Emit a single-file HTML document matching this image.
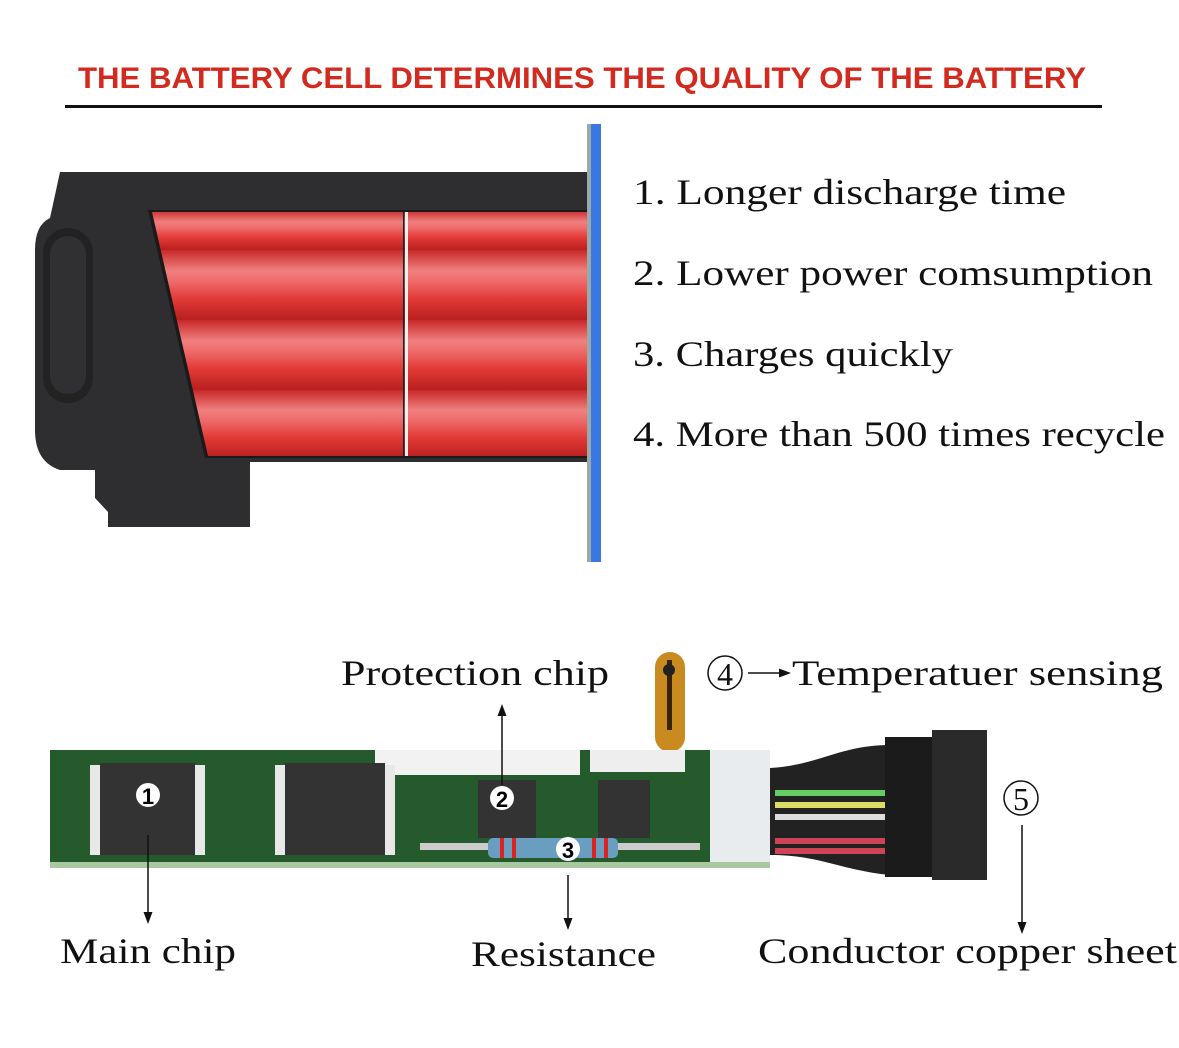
<!DOCTYPE html>
<html><head><style>
body{margin:0;background:#fff;}
svg{display:block}
.t{font-family:"Liberation Serif",serif;font-size:36px;fill:#111}
</style></head><body>
<svg width="1179" height="1048" viewBox="0 0 1179 1048" xmlns="http://www.w3.org/2000/svg">
<defs>
<linearGradient id="cell" x1="0" y1="0" x2="0" y2="1">
<stop offset="0" stop-color="#c82828"/><stop offset="0.3" stop-color="#f08080"/><stop offset="0.45" stop-color="#ee6a6a"/><stop offset="0.7" stop-color="#e23a36"/><stop offset="1" stop-color="#b81f1f"/>
</linearGradient>
<marker id="ah" markerWidth="8" markerHeight="8" refX="4" refY="4" orient="auto"><path d="M0,1 L8,4 L0,7z" fill="#111"/></marker>
</defs>
<text x="78" y="88" textLength="1008" lengthAdjust="spacingAndGlyphs" font-family="Liberation Sans,sans-serif" font-weight="bold" font-size="30" fill="#d32a1f">THE BATTERY CELL DETERMINES THE QUALITY OF THE BATTERY</text>
<rect x="65" y="105" width="1037" height="3" fill="#111"/>
<!-- battery -->
<path d="M60,172 L590,172 L590,462 L250,462 L250,527 L108,527 L108,512 L95,498 L95,470 L60,470 Q35,462 35,430 L35,250 Q35,225 50,218 Z" fill="#2e2e30"/>
<path d="M148,210 L590,210 L590,458 L205,458 Z" fill="#1a1a1a"/>
<clipPath id="win"><path d="M152,212 L590,212 L590,456 L208,456 Z"/></clipPath>
<g clip-path="url(#win)">
<rect x="140" y="210" width="460" height="40" fill="url(#cell)"/>
<rect x="140" y="250" width="460" height="70" fill="url(#cell)"/>
<rect x="140" y="320" width="460" height="70" fill="url(#cell)"/>
<rect x="140" y="390" width="460" height="68" fill="url(#cell)"/>
<rect x="405" y="210" width="3" height="250" fill="#eee"/>
<rect x="403" y="210" width="1.5" height="250" fill="#222"/>
</g>
<rect x="43" y="228" width="50" height="175" rx="25" fill="#222"/>
<rect x="50" y="236" width="36" height="158" rx="18" fill="#303032"/>
<rect x="587" y="124" width="4" height="438" fill="#9aa"/>
<rect x="591" y="124" width="10" height="438" fill="#3a78e0"/>
<text class="t" x="633" y="204" textLength="433" lengthAdjust="spacingAndGlyphs">1. Longer discharge time</text>
<text class="t" x="633" y="285" textLength="520" lengthAdjust="spacingAndGlyphs">2. Lower power comsumption</text>
<text class="t" x="633" y="366" textLength="320" lengthAdjust="spacingAndGlyphs">3. Charges quickly</text>
<text class="t" x="633" y="446" textLength="532" lengthAdjust="spacingAndGlyphs">4. More than 500 times recycle</text>
<!-- PCB -->
<rect x="655" y="652" width="30" height="100" rx="15" fill="#c98a20"/>
<rect x="667" y="660" width="5" height="70" fill="#3a2300"/>
<circle cx="669" cy="670" r="6" fill="#222"/>
<path d="M770,768 C820,765 840,745 890,745 L890,875 C840,870 820,855 770,855 Z" fill="#222"/>
<rect x="775" y="790" width="115" height="6" fill="#6c6"/>
<rect x="775" y="802" width="115" height="6" fill="#dd6"/>
<rect x="775" y="814" width="115" height="6" fill="#ddd"/>
<rect x="775" y="838" width="115" height="6" fill="#c45"/>
<rect x="775" y="848" width="115" height="6" fill="#c45"/>
<rect x="885" y="737" width="50" height="140" fill="#1b1b1b"/>
<rect x="932" y="730" width="55" height="150" fill="#2a2a2a"/>
<rect x="50" y="750" width="660" height="118" fill="#245a2c"/>
<rect x="710" y="750" width="60" height="118" fill="#e8ecee"/>
<rect x="50" y="862" width="720" height="6" fill="#a8c8a0"/>
<rect x="375" y="750" width="205" height="25" fill="#f2f2f2"/>
<rect x="590" y="750" width="95" height="22" fill="#eee"/>
<rect x="90" y="765" width="115" height="90" fill="#e8e8e8"/>
<rect x="100" y="763" width="95" height="92" fill="#333"/>
<rect x="275" y="765" width="120" height="90" fill="#e8e8e8"/>
<rect x="285" y="763" width="100" height="92" fill="#333"/>
<rect x="478" y="780" width="58" height="58" fill="#333"/>
<rect x="598" y="780" width="52" height="58" fill="#333"/>
<rect x="420" y="843" width="280" height="7" fill="#ccc"/>
<rect x="488" y="838" width="130" height="20" rx="5" fill="#6a9ec0"/>
<rect x="500" y="838" width="4" height="20" fill="#d22"/><rect x="512" y="838" width="4" height="20" fill="#d22"/>
<rect x="592" y="838" width="4" height="20" fill="#d22"/><rect x="604" y="838" width="4" height="20" fill="#d22"/>
<circle cx="148" cy="795" r="12" fill="#fff"/><text x="148" y="804" text-anchor="middle" font-family="Liberation Sans,sans-serif" font-weight="bold" font-size="22">1</text>
<circle cx="502" cy="798" r="12" fill="#fff"/><text x="502" y="807" text-anchor="middle" font-family="Liberation Sans,sans-serif" font-weight="bold" font-size="22">2</text>
<circle cx="568" cy="849" r="12" fill="#fff"/><text x="568" y="858" text-anchor="middle" font-family="Liberation Sans,sans-serif" font-weight="bold" font-size="22">3</text>
<!-- labels & arrows -->
<text class="t" x="341" y="685" textLength="268" lengthAdjust="spacingAndGlyphs">Protection chip</text>
<line x1="502" y1="785" x2="502" y2="710" stroke="#111" stroke-width="1.5" marker-end="url(#ah)"/>
<circle cx="725" cy="673" r="17" fill="none" stroke="#111" stroke-width="1.5"/>
<text x="725" y="685" text-anchor="middle" font-family="Liberation Serif,serif" font-size="32" fill="#111">4</text>
<line x1="748" y1="673" x2="785" y2="673" stroke="#111" stroke-width="1.5" marker-end="url(#ah)"/>
<text class="t" x="792" y="685" textLength="371" lengthAdjust="spacingAndGlyphs">Temperatuer sensing</text>
<circle cx="1021" cy="798" r="17" fill="none" stroke="#111" stroke-width="1.5"/>
<text x="1021" y="810" text-anchor="middle" font-family="Liberation Serif,serif" font-size="32" fill="#111">5</text>
<line x1="1022" y1="825" x2="1022" y2="928" stroke="#111" stroke-width="1.5" marker-end="url(#ah)"/>
<line x1="148" y1="835" x2="148" y2="918" stroke="#111" stroke-width="1.5" marker-end="url(#ah)"/>
<line x1="568" y1="875" x2="568" y2="924" stroke="#111" stroke-width="1.5" marker-end="url(#ah)"/>
<text class="t" x="60" y="963" textLength="176" lengthAdjust="spacingAndGlyphs">Main chip</text>
<text class="t" x="471" y="966" textLength="185" lengthAdjust="spacingAndGlyphs">Resistance</text>
<text class="t" x="758" y="963" textLength="419" lengthAdjust="spacingAndGlyphs">Conductor copper sheet</text>
</svg>
</body></html>
